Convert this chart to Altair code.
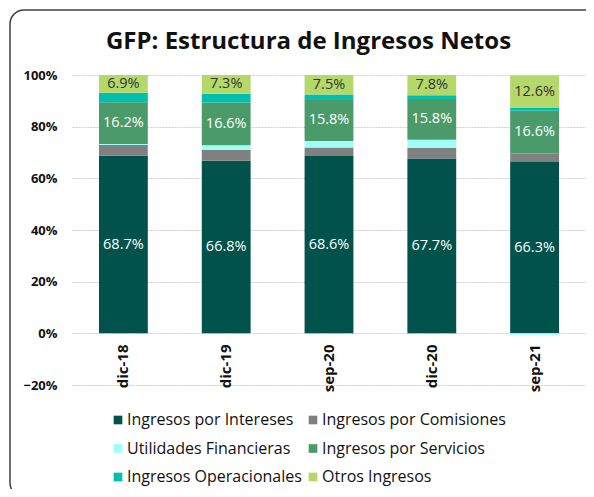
import altair as alt
import pandas as pd

title_text = "GFP: Estructura de Ingresos Netos"
periods = ["dic-18", "dic-19", "sep-20", "dic-20", "sep-21"]
series = [
    "Ingresos por Intereses",
    "Ingresos por Comisiones",
    "Utilidades Financieras",
    "Ingresos por Servicios",
    "Ingresos Operacionales",
    "Otros Ingresos",
]
colors = ["#00524A", "#808080", "#9FFFF6", "#4B9A69", "#00BFAE", "#B4D96A"]

intereses = [68.7, 66.8, 68.6, 67.7, 66.3]
comisiones = [4.2, 4.2, 3.3, 4.0, 3.3]
utilidades = [0.4, 1.8, 2.6, 3.2, -0.5]
servicios = [16.2, 16.6, 15.8, 15.8, 16.6]
operacionales = [3.6, 3.3, 2.2, 1.5, 1.0]
otros = [6.9, 7.3, 7.5, 7.8, 12.6]

values = [intereses, comisiones, utilidades, servicios, operacionales, otros]
rows = []
for si, (s, vals) in enumerate(zip(series, values)):
    for p, v in zip(periods, vals):
        rows.append({"period": p, "serie": s, "order": si, "value": v / 100.0})
df = pd.DataFrame(rows)

FONT = "Open Sans"

base = alt.Chart(df).transform_stack(
    stack="value", groupby=["period"], as_=["v0", "v1"],
    sort=[alt.SortField("order", order="ascending")]
).transform_calculate(mid="(datum.v0 + datum.v1) / 2")

x_enc = alt.X("period:N", sort=periods, title=None,
              scale=alt.Scale(paddingInner=0.525, paddingOuter=0.2625),
              axis=alt.Axis(labelAngle=-90, domain=False, ticks=False, offset=-51,
                            labelPadding=10, labelFontWeight="bold", labelFontSize=15,
                            labelColor="#111111", labelFont=FONT))

bars = base.mark_bar(stroke=None).encode(
    x=x_enc,
    y=alt.Y("v0:Q", title=None,
            scale=alt.Scale(domain=[-0.2, 1.0], nice=False, zero=False),
            axis=alt.Axis(format=".0%", values=[-0.2, 0, 0.2, 0.4, 0.6, 0.8, 1.0],
                          domain=False, ticks=False, labelPadding=15,
                          labelFontWeight="bold", labelFontSize=13, labelColor="#111111",
                          labelFont=FONT, gridColor="#CFCFCF", gridDash=[2, 1])),
    y2="v1:Q",
    color=alt.Color("serie:N", sort=series,
                    scale=alt.Scale(domain=series, range=colors),
                    legend=alt.Legend(title=None, orient="none", legendX=38, legendY=337,
                                      direction="horizontal",
                                      columns=2, symbolType="square", symbolSize=75,
                                      symbolStrokeWidth=0, labelFontSize=16,
                                      labelLimit=400,
                                      labelFont=FONT, labelColor="#111111",
                                      rowPadding=12.5, columnPadding=3, labelOffset=1)),
    order=alt.Order("order:Q"),
)

labels_white = base.transform_filter(
    alt.FieldOneOfPredicate(field="serie", oneOf=["Ingresos por Intereses", "Ingresos por Servicios"])
).mark_text(color="white", fontSize=14.5, font=FONT, baseline="middle").encode(
    x=alt.X("period:N", sort=periods),
    y=alt.Y("mid:Q"),
    text=alt.Text("value:Q", format=".1%"),
)

labels_dark = base.transform_filter(
    alt.FieldEqualPredicate(field="serie", equal="Otros Ingresos")
).mark_text(color="#333333", fontSize=14.5, font=FONT, baseline="middle").encode(
    x=alt.X("period:N", sort=periods),
    y=alt.Y("mid:Q"),
    text=alt.Text("value:Q", format=".1%"),
)

frame = alt.Chart(alt.Data(values=[{}])).mark_rect(
    fill=None, stroke="#404040", strokeWidth=1.5, cornerRadius=14
).encode(
    x=alt.value(-62), x2=alt.value(700), y=alt.value(-65), y2=alt.value(422)
)

title = alt.Chart(alt.Data(values=[{"t": title_text}])).mark_text(
    font=FONT, fontSize=24, fontWeight="bold", color="#111111",
    align="center", baseline="alphabetic"
).encode(x=alt.value(236.5), y=alt.value(-26.5), text="t:N")

chart = alt.layer(frame, bars, labels_white, labels_dark, title).properties(
    width=514, height=310,
    padding={"left": 64, "top": 67, "right": 0, "bottom": 104},
    autosize=alt.AutoSizeParams(type="none"),
).configure_view(stroke=None).configure_axis(grid=True).configure_axisX(grid=False)

chart.save("out.html", embed_options={"renderer": "svg", "actions": False})
